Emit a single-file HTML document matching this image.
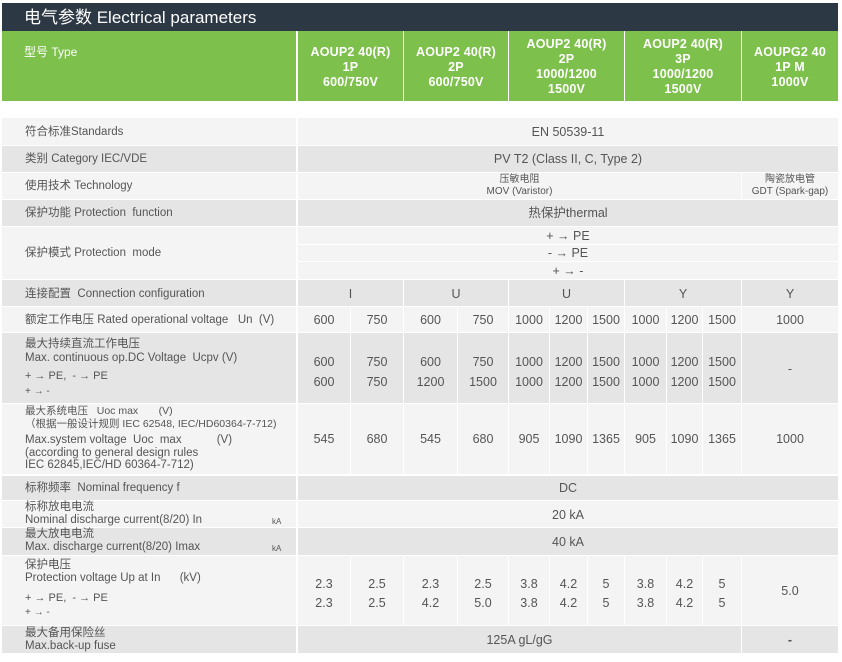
<!DOCTYPE html>
<html><head><meta charset="utf-8"><style>
body{margin:0;width:842px;height:662px;background:#fff;position:relative;overflow:hidden;font-family:"Liberation Sans","Noto Sans CJK SC",sans-serif;color:#555}
div{position:absolute;box-sizing:border-box}
.L{background:#f4f4f4}.D{background:#e5e5e5}
.t{white-space:nowrap;font-size:11.5px;line-height:14px}
.v{white-space:nowrap;font-size:12.5px;line-height:14px;text-align:center}
.h{color:#fff;font-weight:bold;font-size:12.5px;line-height:15px;text-align:center;letter-spacing:.2px}
.vl{background:#fff;width:1px}
</style></head><body>
<div style="left:2px;top:3px;width:836px;height:28px;background:#2c3843"></div>
<div style="left:24px;top:6px;color:#fff;font-size:17px;line-height:24px;white-space:nowrap">电气参数 Electrical parameters</div>
<div style="left:2px;top:31px;width:836px;height:70px;background:#7dc04b"></div>
<div style="left:296px;top:31px;width:2px;height:70px;background:#fff"></div>
<div style="left:403px;top:31px;width:1px;height:70px;background:#fff"></div>
<div style="left:508px;top:31px;width:1px;height:70px;background:#fff"></div>
<div style="left:624px;top:31px;width:1px;height:70px;background:#fff"></div>
<div style="left:741px;top:31px;width:1px;height:70px;background:#fff"></div>
<div style="left:24px;top:43px;color:#fff;font-size:12px;white-space:nowrap">型号 Type</div>
<div class="h" style="left:298px;top:45px;width:105px">AOUP2 40(R)<br>1P<br>600/750V</div>
<div class="h" style="left:404px;top:45px;width:104px">AOUP2 40(R)<br>2P<br>600/750V</div>
<div class="h" style="left:509px;top:37px;width:115px">AOUP2 40(R)<br>2P<br>1000/1200<br>1500V</div>
<div class="h" style="left:625px;top:37px;width:116px">AOUP2 40(R)<br>3P<br>1000/1200<br>1500V</div>
<div class="h" style="left:742px;top:45px;width:96px">AOUPG2 40<br>1P M<br>1000V</div>

<div class="L" style="left:2px;top:118px;width:836px;height:27px"></div>
<div class="D" style="left:2px;top:146px;width:836px;height:26px"></div>
<div class="L" style="left:2px;top:173px;width:836px;height:26px"></div>
<div class="D" style="left:2px;top:200px;width:836px;height:26px"></div>
<div class="L" style="left:2px;top:227px;width:836px;height:52px"></div>
<div style="left:298px;top:244px;width:540px;height:1px;background:#fff"></div>
<div style="left:298px;top:261px;width:540px;height:1px;background:#fff"></div>
<div class="D" style="left:2px;top:280px;width:836px;height:26px"></div>
<div class="L" style="left:2px;top:307px;width:836px;height:25px"></div>
<div class="D" style="left:2px;top:333px;width:836px;height:70px"></div>
<div class="L" style="left:2px;top:404px;width:836px;height:70px"></div>
<div class="D" style="left:2px;top:476px;width:836px;height:24px"></div>
<div class="L" style="left:2px;top:501px;width:836px;height:26px"></div>
<div class="D" style="left:2px;top:528px;width:836px;height:27px"></div>
<div class="L" style="left:2px;top:556px;width:836px;height:69px"></div>
<div class="D" style="left:2px;top:626px;width:836px;height:27px"></div>
<div class="vl" style="left:296px;top:118px;height:535px;width:2px"></div>
<div class="vl" style="left:741px;top:173px;height:26px"></div>
<div class="vl" style="left:403px;top:280px;height:194px"></div>
<div class="vl" style="left:508px;top:280px;height:194px"></div>
<div class="vl" style="left:624px;top:280px;height:194px"></div>
<div class="vl" style="left:741px;top:280px;height:194px"></div>
<div class="vl" style="left:350px;top:307px;height:167px"></div>
<div class="vl" style="left:457px;top:307px;height:167px"></div>
<div class="vl" style="left:549px;top:307px;height:167px"></div>
<div class="vl" style="left:587px;top:307px;height:167px"></div>
<div class="vl" style="left:666px;top:307px;height:167px"></div>
<div class="vl" style="left:702px;top:307px;height:167px"></div>
<div class="vl" style="left:350px;top:556px;height:69px"></div>
<div class="vl" style="left:403px;top:556px;height:69px"></div>
<div class="vl" style="left:457px;top:556px;height:69px"></div>
<div class="vl" style="left:508px;top:556px;height:69px"></div>
<div class="vl" style="left:549px;top:556px;height:69px"></div>
<div class="vl" style="left:587px;top:556px;height:69px"></div>
<div class="vl" style="left:624px;top:556px;height:69px"></div>
<div class="vl" style="left:666px;top:556px;height:69px"></div>
<div class="vl" style="left:702px;top:556px;height:69px"></div>
<div class="vl" style="left:741px;top:556px;height:97px"></div>

<div class="t" style="left:25px;top:125px">符合标准Standards</div>
<div class="t" style="left:25px;top:152px">类别 Category IEC/VDE</div>
<div class="t" style="left:25px;top:179px">使用技术 Technology</div>
<div class="t" style="left:25px;top:206px">保护功能 Protection&nbsp; function</div>
<div class="t" style="left:25px;top:246px">保护模式 Protection&nbsp; mode</div>
<div class="t" style="left:25px;top:287px">连接配置&nbsp; Connection configuration</div>
<div class="t" style="left:25px;top:313px">额定工作电压 Rated operational voltage&nbsp;&nbsp; Un&nbsp; (V)</div>
<div class="t" style="left:25px;top:337px">最大持续直流工作电压<br>Max. continuous op.DC Voltage&nbsp; Ucpv (V)</div>
<div class="t" style="left:25px;top:369px;font-size:11px">+ → PE,&nbsp; - → PE</div>
<div class="t" style="left:25px;top:385px;font-size:10px">+ → -</div>
<div class="t" style="left:25px;top:405px;font-size:10.5px;line-height:12.5px">最大系统电压&nbsp;&nbsp; Uoc max&nbsp;&nbsp;&nbsp;&nbsp;&nbsp;&nbsp; (V)<br>（根据一般设计规则 IEC 62548, IEC/HD60364-7-712)</div>
<div class="t" style="left:25px;top:434px;line-height:12.5px">Max.system voltage&nbsp; Uoc&nbsp; max&nbsp;&nbsp;&nbsp;&nbsp;&nbsp;&nbsp;&nbsp;&nbsp;&nbsp;&nbsp; (V)<br>(according to general design rules<br>IEC 62845,IEC/HD 60364-7-712)</div>
<div class="t" style="left:25px;top:481px">标称频率&nbsp; Nominal frequency f</div>
<div class="t" style="left:25px;top:501px;line-height:13px">标称放电电流<br>Nominal discharge current(8/20) In</div>
<div class="t" style="left:272px;top:515px;font-size:8px">kA</div>
<div class="t" style="left:25px;top:528px;line-height:13px">最大放电电流<br>Max. discharge current(8/20) Imax</div>
<div class="t" style="left:272px;top:542px;font-size:8px">kA</div>
<div class="t" style="left:25px;top:559px;line-height:13px">保护电压<br>Protection voltage Up at In&nbsp;&nbsp;&nbsp;&nbsp;&nbsp; (kV)</div>
<div class="t" style="left:25px;top:591px;font-size:11px">+ → PE,&nbsp; - → PE</div>
<div class="t" style="left:25px;top:606px;font-size:10px">+ → -</div>
<div class="t" style="left:25px;top:627px;line-height:13px">最大备用保险丝<br>Max.back-up fuse</div>

<div class="v" style="left:298px;top:125px;width:540px">EN 50539-11</div>
<div class="v" style="left:298px;top:152px;width:540px">PV T2 (Class II, C, Type 2)</div>
<div class="v" style="left:298px;top:174px;width:443px;font-size:10px;line-height:12px">压敏电阻<br>MOV (Varistor)</div>
<div class="v" style="left:742px;top:174px;width:96px;font-size:10px;line-height:12px">陶瓷放电管<br>GDT (Spark-gap)</div>
<div class="v" style="left:298px;top:206px;width:540px">热保护thermal</div>
<div class="v" style="left:298px;top:229px;width:540px">+ → PE</div>
<div class="v" style="left:298px;top:246px;width:540px">- → PE</div>
<div class="v" style="left:298px;top:264px;width:540px">+ → -</div>
<div class="v" style="left:298px;top:287px;width:105px">I</div>
<div class="v" style="left:404px;top:287px;width:104px">U</div>
<div class="v" style="left:509px;top:287px;width:115px">U</div>
<div class="v" style="left:625px;top:287px;width:116px">Y</div>
<div class="v" style="left:742px;top:287px;width:96px">Y</div>

<!-- rated -->
<div class="v" style="left:298px;top:313px;width:52px">600</div>
<div class="v" style="left:351px;top:313px;width:52px">750</div>
<div class="v" style="left:404px;top:313px;width:53px">600</div>
<div class="v" style="left:458px;top:313px;width:50px">750</div>
<div class="v" style="left:509px;top:313px;width:40px">1000</div>
<div class="v" style="left:550px;top:313px;width:37px">1200</div>
<div class="v" style="left:588px;top:313px;width:36px">1500</div>
<div class="v" style="left:625px;top:313px;width:41px">1000</div>
<div class="v" style="left:667px;top:313px;width:35px">1200</div>
<div class="v" style="left:703px;top:313px;width:38px">1500</div>
<div class="v" style="left:742px;top:313px;width:96px">1000</div>
<!-- max cont -->
<div class="v" style="left:298px;top:352px;width:52px;line-height:20px">600<br>600</div>
<div class="v" style="left:351px;top:352px;width:52px;line-height:20px">750<br>750</div>
<div class="v" style="left:404px;top:352px;width:53px;line-height:20px">600<br>1200</div>
<div class="v" style="left:458px;top:352px;width:50px;line-height:20px">750<br>1500</div>
<div class="v" style="left:509px;top:352px;width:40px;line-height:20px">1000<br>1000</div>
<div class="v" style="left:550px;top:352px;width:37px;line-height:20px">1200<br>1200</div>
<div class="v" style="left:588px;top:352px;width:36px;line-height:20px">1500<br>1500</div>
<div class="v" style="left:625px;top:352px;width:41px;line-height:20px">1000<br>1000</div>
<div class="v" style="left:667px;top:352px;width:35px;line-height:20px">1200<br>1200</div>
<div class="v" style="left:703px;top:352px;width:38px;line-height:20px">1500<br>1500</div>
<div class="v" style="left:742px;top:362px;width:96px">-</div>
<!-- system -->
<div class="v" style="left:298px;top:432px;width:52px">545</div>
<div class="v" style="left:351px;top:432px;width:52px">680</div>
<div class="v" style="left:404px;top:432px;width:53px">545</div>
<div class="v" style="left:458px;top:432px;width:50px">680</div>
<div class="v" style="left:509px;top:432px;width:40px">905</div>
<div class="v" style="left:550px;top:432px;width:37px">1090</div>
<div class="v" style="left:588px;top:432px;width:36px">1365</div>
<div class="v" style="left:625px;top:432px;width:41px">905</div>
<div class="v" style="left:667px;top:432px;width:35px">1090</div>
<div class="v" style="left:703px;top:432px;width:38px">1365</div>
<div class="v" style="left:742px;top:432px;width:96px">1000</div>

<div class="v" style="left:298px;top:481px;width:540px">DC</div>
<div class="v" style="left:298px;top:508px;width:540px">20 kA</div>
<div class="v" style="left:298px;top:535px;width:540px">40 kA</div>

<div class="v" style="left:298px;top:575px;width:52px;line-height:19px">2.3<br>2.3</div>
<div class="v" style="left:351px;top:575px;width:52px;line-height:19px">2.5<br>2.5</div>
<div class="v" style="left:404px;top:575px;width:53px;line-height:19px">2.3<br>4.2</div>
<div class="v" style="left:458px;top:575px;width:50px;line-height:19px">2.5<br>5.0</div>
<div class="v" style="left:509px;top:575px;width:40px;line-height:19px">3.8<br>3.8</div>
<div class="v" style="left:550px;top:575px;width:37px;line-height:19px">4.2<br>4.2</div>
<div class="v" style="left:588px;top:575px;width:36px;line-height:19px">5<br>5</div>
<div class="v" style="left:625px;top:575px;width:41px;line-height:19px">3.8<br>3.8</div>
<div class="v" style="left:667px;top:575px;width:35px;line-height:19px">4.2<br>4.2</div>
<div class="v" style="left:703px;top:575px;width:38px;line-height:19px">5<br>5</div>
<div class="v" style="left:742px;top:584px;width:96px">5.0</div>

<div class="v" style="left:298px;top:633px;width:443px">125A gL/gG</div>
<div class="v" style="left:742px;top:633px;width:96px;font-weight:bold">-</div>
</body></html>
